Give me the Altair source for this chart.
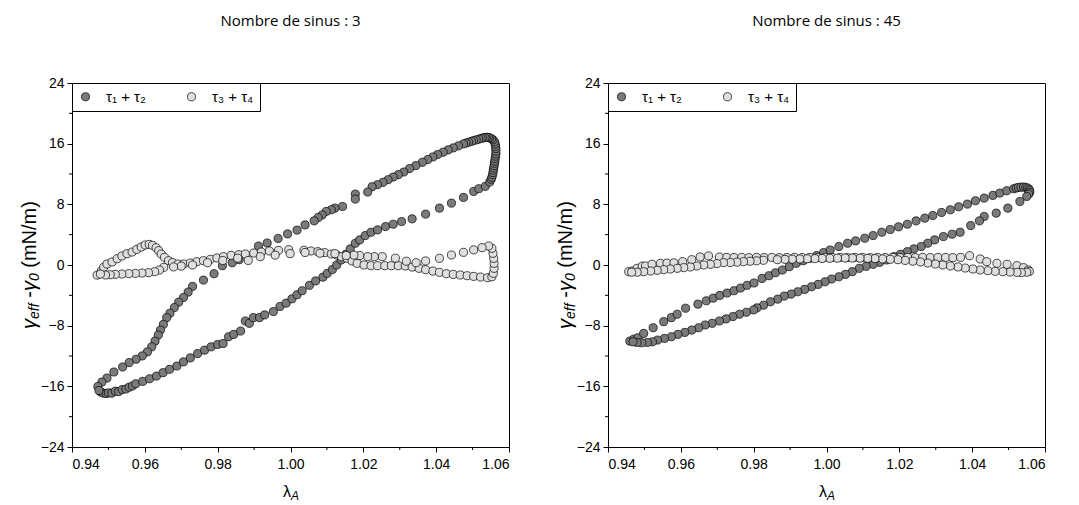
import altair as alt
import pandas as pd

# ---------------- data ----------------
series_names = ["τ₁ + τ₂", "τ₃ + τ₄"]
series_fill = ["#7a7a7a", "#dfdfdf"]
panel_titles = ["Nombre de sinus : 3", "Nombre de sinus : 45"]

x_ticks = [0.94, 0.96, 0.98, 1.00, 1.02, 1.04, 1.06]
x_minor = [0.95, 0.97, 0.99, 1.01, 1.03, 1.05]
y_ticks = [-24, -16, -8, 0, 8, 16, 24]
y_minor = [-20, -12, -4, 4, 12, 20]

# Left panel (3 sines), tau1+tau2
L_dark_lam = [0.9479,0.9486,0.9494,0.9500,0.9509,0.9519,0.9528,0.9538,0.9548,0.9557,0.9566,0.9575,0.9594,0.9613,0.9632,0.9650,0.9668,0.9688,0.9706,0.9725,0.9745,0.9764,0.9782,0.9800,0.9815,0.9830,0.9844,0.9863,0.9876,0.9887,0.9898,0.9915,0.9929,0.9953,0.9971,0.9988,1.0004,1.0018,1.0032,1.0052,1.0069,1.0089,1.0101,1.0115,1.0127,1.0139,1.0152,1.0164,1.0178,1.0190,1.0205,1.0221,1.0239,1.0261,1.0282,1.0305,1.0334,1.0371,1.0409,1.0442,1.0475,1.0503,1.0517,1.0535,1.0547,1.0551,1.0553,1.0555,1.0556,1.0557,1.0558,1.0559,1.0560,1.0561,1.0562,1.0563,1.0564,1.0564,1.0564,1.0563,1.0562,1.0560,1.0556,1.0552,1.0547,1.0543,1.0538,1.0534,1.0528,1.0523,1.0517,1.0510,1.0503,1.0497,1.0489,1.0482,1.0475,1.0461,1.0447,1.0433,1.0419,1.0404,1.0391,1.0377,1.0362,1.0344,1.0327,1.0311,1.0296,1.0282,1.0268,1.0254,1.0239,1.0224,1.0212,1.0178,1.0178,1.0143,1.0122,1.0112,1.0098,1.0087,1.0076,1.0065,1.0040,1.0018,0.9992,0.9966,0.9936,0.9912,0.9859,0.9840,0.9813,0.9790,0.9761,0.9731,0.9719,0.9706,0.9693,0.9681,0.9669,0.9660,0.9651,0.9643,0.9637,0.9628,0.9619,0.9607,0.9593,0.9576,0.9557,0.9539,0.9515,0.9496,0.9482,0.9471,0.9474]
L_dark_gam = [-16.75,-16.90,-16.95,-16.86,-16.90,-16.64,-16.70,-16.42,-16.35,-16.11,-15.95,-15.66,-15.35,-15.00,-14.65,-14.20,-13.76,-13.32,-12.78,-12.25,-11.68,-11.23,-10.79,-10.48,-10.35,-9.46,-9.15,-8.71,-7.38,-7.69,-6.94,-6.94,-6.58,-6.14,-5.47,-5.03,-4.46,-3.92,-3.39,-2.68,-2.10,-1.60,-1.10,-0.60,0.00,0.66,1.41,2.12,2.87,3.31,3.88,4.32,4.63,5.07,5.38,5.73,6.09,6.71,7.50,8.16,8.91,9.70,10.06,10.37,10.94,11.30,11.56,11.90,12.18,12.50,12.79,13.10,13.41,13.70,14.03,14.35,14.65,15.00,15.35,15.65,15.97,16.25,16.50,16.65,16.76,16.82,16.85,16.80,16.76,16.68,16.59,16.50,16.41,16.30,16.19,16.08,15.97,15.71,15.44,15.18,14.87,14.56,14.25,13.90,13.54,13.10,12.71,12.26,11.91,11.60,11.25,10.90,10.59,10.32,9.62,9.35,8.69,7.72,7.50,7.28,7.06,6.60,6.26,5.82,5.29,4.60,4.10,3.50,2.90,2.50,0.70,0.30,-0.09,-1.15,-1.99,-2.82,-3.57,-4.28,-4.90,-5.61,-6.36,-6.94,-7.82,-8.58,-9.24,-10.04,-10.79,-11.46,-11.99,-12.43,-12.87,-13.45,-14.11,-14.91,-15.44,-16.02,-16.55]

# Left panel (3 sines), tau3+tau4
L_light_lam = [0.9469,0.9481,0.9487,0.9496,0.9510,0.9524,0.9537,0.9551,0.9565,0.9578,0.9590,0.9601,0.9612,0.9621,0.9631,0.9638,0.9645,0.9654,0.9665,0.9676,0.9691,0.9707,0.9725,0.9743,0.9761,0.9780,0.9798,0.9816,0.9837,0.9858,0.9876,0.9899,0.9920,0.9942,0.9967,0.9995,1.0037,1.0056,1.0075,1.0094,1.0112,1.0127,1.0140,1.0155,1.0169,1.0183,1.0202,1.0221,1.0239,1.0259,1.0277,1.0296,1.0315,1.0334,1.0353,1.0371,1.0391,1.0409,1.0428,1.0447,1.0466,1.0485,1.0503,1.0522,1.0541,1.0553,1.0557,1.0559,1.0559,1.0558,1.0556,1.0553,1.0544,1.0526,1.0503,1.0475,1.0442,1.0409,1.0371,1.0345,1.0318,1.0288,1.0252,1.0230,1.0212,1.0190,1.0174,1.0153,1.0122,1.0081,1.0040,0.9999,0.9958,0.9917,0.9884,0.9855,0.9814,0.9772,0.9731,0.9700,0.9679,0.9652,0.9640,0.9627,0.9610,0.9592,0.9574,0.9556,0.9537,0.9519,0.9505,0.9492,0.9478]
L_light_gam = [-1.33,-0.75,-0.31,0.13,0.40,0.83,1.19,1.49,1.71,2.06,2.37,2.64,2.72,2.59,2.28,1.89,1.45,1.01,0.57,0.31,0.13,0.13,0.26,0.44,0.57,0.75,0.92,1.10,1.27,1.36,1.45,1.58,1.71,1.85,1.93,2.02,1.94,1.85,1.76,1.63,1.45,1.32,1.10,0.88,0.53,0.22,0.00,-0.09,-0.09,-0.09,-0.09,-0.09,-0.13,-0.27,-0.44,-0.62,-0.80,-0.97,-1.15,-1.24,-1.32,-1.41,-1.50,-1.59,-1.68,-1.55,-1.10,-0.44,0.22,0.88,1.54,2.20,2.51,2.29,2.00,1.67,1.32,0.88,0.53,0.30,0.50,0.90,1.10,1.10,1.10,1.25,1.30,1.25,1.50,1.55,1.65,1.50,1.30,1.10,0.60,0.90,0.60,0.30,0.00,-0.15,-0.25,-0.31,-0.66,-0.88,-1.01,-1.06,-1.10,-1.14,-1.19,-1.23,-1.28,-1.32,-1.19]

# Right panel (45 sines), tau1+tau2
R_dark_lam = [0.9460,0.9471,0.9482,0.9498,0.9524,0.9553,0.9574,0.9590,0.9613,0.9647,0.9670,0.9689,0.9707,0.9727,0.9746,0.9764,0.9782,0.9801,0.9823,0.9842,0.9860,0.9879,0.9898,0.9917,0.9936,0.9954,0.9973,0.9992,1.0010,1.0034,1.0058,1.0080,1.0105,1.0128,1.0152,1.0175,1.0198,1.0222,1.0246,1.0270,1.0292,1.0316,1.0340,1.0363,1.0387,1.0409,1.0433,1.0457,1.0476,1.0495,1.0514,1.0521,1.0527,1.0534,1.0541,1.0547,1.0552,1.0556,1.0558,1.0558,1.0555,1.0550,1.0531,1.0498,1.0466,1.0433,1.0420,1.0396,1.0367,1.0345,1.0321,1.0297,1.0278,1.0260,1.0240,1.0222,1.0203,1.0185,1.0165,1.0146,1.0128,1.0109,1.0090,1.0071,1.0052,1.0034,1.0014,0.9996,0.9977,0.9959,0.9940,0.9921,0.9903,0.9884,0.9866,0.9846,0.9827,0.9809,0.9800,0.9780,0.9761,0.9743,0.9724,0.9706,0.9686,0.9667,0.9649,0.9630,0.9611,0.9592,0.9574,0.9555,0.9536,0.9522,0.9508,0.9493,0.9480,0.9469]
R_dark_gam = [-10.04,-9.77,-9.59,-9.02,-8.27,-7.47,-6.94,-6.49,-5.70,-5.16,-4.72,-4.37,-4.01,-3.70,-3.39,-3.04,-2.68,-2.37,-1.77,-1.41,-1.02,-0.66,-0.22,0.22,0.57,0.88,1.23,1.63,1.98,2.43,2.87,3.18,3.53,3.88,4.32,4.68,5.03,5.38,5.82,6.18,6.53,6.93,7.28,7.68,8.03,8.47,8.82,9.18,9.48,9.79,10.06,10.15,10.23,10.27,10.28,10.22,10.15,10.00,9.79,9.55,9.35,9.04,8.38,7.50,6.84,6.40,5.82,5.20,4.32,4.06,3.75,3.31,2.87,2.43,2.12,1.76,1.41,1.10,0.66,0.35,0.09,-0.18,-0.44,-0.88,-1.24,-1.55,-1.85,-2.21,-2.56,-2.87,-3.22,-3.53,-3.84,-4.10,-4.50,-4.85,-5.30,-5.65,-5.92,-6.23,-6.49,-6.80,-7.11,-7.38,-7.69,-7.91,-8.27,-8.58,-8.89,-9.15,-9.46,-9.68,-9.90,-10.13,-10.22,-10.26,-10.22,-10.13]

# Right panel (45 sines), tau3+tau4
R_light_lam = [0.9457,0.9467,0.9480,0.9494,0.9503,0.9521,0.9544,0.9562,0.9581,0.9605,0.9630,0.9653,0.9676,0.9706,0.9726,0.9746,0.9767,0.9787,0.9808,0.9829,0.9850,0.9870,0.9891,0.9912,0.9933,0.9954,0.9975,0.9995,1.0016,1.0037,1.0057,1.0078,1.0099,1.0120,1.0140,1.0161,1.0182,1.0202,1.0223,1.0244,1.0264,1.0285,1.0306,1.0327,1.0347,1.0368,1.0393,1.0422,1.0440,1.0468,1.0496,1.0523,1.0541,1.0554,1.0557,1.0550,1.0535,1.0523,1.0504,1.0484,1.0463,1.0443,1.0422,1.0402,1.0381,1.0361,1.0340,1.0319,1.0299,1.0278,1.0258,1.0237,1.0216,1.0196,1.0175,1.0154,1.0133,1.0113,1.0092,1.0071,1.0051,1.0030,1.0009,0.9988,0.9968,0.9947,0.9927,0.9906,0.9886,0.9865,0.9827,0.9808,0.9790,0.9772,0.9754,0.9736,0.9717,0.9699,0.9681,0.9663,0.9644,0.9626,0.9608,0.9590,0.9571,0.9553,0.9535,0.9517,0.9498,0.9480,0.9465]
R_light_gam = [-0.88,-0.79,-0.44,-0.15,-0.13,0.10,0.22,0.25,0.28,0.44,0.70,1.06,1.20,1.05,1.00,0.98,1.00,0.97,1.00,0.98,1.00,0.97,0.99,1.00,0.98,1.00,0.97,1.00,0.99,1.00,0.98,1.00,0.99,0.97,1.00,0.98,1.00,0.99,1.00,0.97,1.00,0.98,0.99,1.00,0.97,1.00,1.23,0.79,0.44,0.22,0.09,-0.09,-0.35,-0.66,-0.85,-0.95,-1.00,-0.97,-0.93,-0.88,-0.84,-0.75,-0.66,-0.53,-0.40,-0.26,-0.13,0.00,0.13,0.26,0.40,0.50,0.60,0.70,0.75,0.80,0.85,0.88,0.90,0.92,0.92,0.90,0.88,0.86,0.84,0.82,0.80,0.77,0.74,0.70,0.62,0.55,0.50,0.44,0.38,0.33,0.31,0.18,0.09,0.00,-0.13,-0.26,-0.35,-0.44,-0.53,-0.61,-0.70,-0.79,-0.88,-0.95,-0.95]

# ---------------- layout ----------------
W, H = 437, 364
FONT = "Liberation Sans"
xscale = alt.Scale(domain=[0.94, 1.06], nice=False, zero=False)
yscale = alt.Scale(domain=[-24, 24], nice=False, zero=False)
cscale = alt.Scale(domain=series_names, range=series_fill)


def x_axis():
    return alt.Axis(values=x_ticks, format=".2f", title=None, grid=False, labelPadding=5)


def y_axis():
    return alt.Axis(values=y_ticks, format="d", title=None, grid=False, labelPadding=3)


def text_piece(txt, x, y, size, italic=False, angle=0, align="left"):
    kw = dict(font=FONT, fontSize=size, color="black", align=align,
              baseline="middle", angle=angle)
    if italic:
        kw["fontStyle"] = "italic"
    return alt.Chart(pd.DataFrame({"t": [txt]})).mark_text(**kw).encode(
        text="t:N", x=alt.value(x), y=alt.value(y))


def panel(lam_a, gam_a, lam_b, gam_b, title):
    df = pd.DataFrame({
        "lam": lam_a + lam_b,
        "gam": gam_a + gam_b,
        "series": [series_names[0]] * len(lam_a) + [series_names[1]] * len(lam_b),
        "ord": list(range(len(lam_a) + len(lam_b))),
    })
    pts = alt.Chart(df).mark_circle(size=66, stroke="black", strokeWidth=0.7, opacity=1).encode(
        x=alt.X("lam:Q", scale=xscale, axis=x_axis()),
        y=alt.Y("gam:Q", scale=yscale, axis=y_axis()),
        color=alt.Color("series:N", scale=cscale,
                        legend=alt.Legend(orient="none", legendX=0, legendY=0,
                                          direction="horizontal", title=None,
                                          strokeColor="black", fillColor="white",
                                          padding=6, labelFontSize=15, labelFont=FONT,
                                          labelColor="black", symbolSize=66,
                                          symbolStrokeWidth=0.7, symbolStrokeColor="black",
                                          columnPadding=38, labelOffset=13,
                                          symbolType="circle", cornerRadius=0)),
        order=alt.Order("ord:Q"),
    )
    mx = alt.Chart(pd.DataFrame({"lam": x_minor})).mark_rule(color="black", strokeWidth=1).encode(
        x=alt.X("lam:Q", scale=xscale, axis=x_axis()), y=alt.value(H), y2=alt.value(H + 3))
    my = alt.Chart(pd.DataFrame({"gam": y_minor})).mark_rule(color="black", strokeWidth=1).encode(
        y=alt.Y("gam:Q", scale=yscale, axis=y_axis()), x=alt.value(0), x2=alt.value(-3))

    # y title: gamma_eff -gamma_0 (mN/m), rotated, built from pieces
    y0 = H / 2 + 64.0
    tx = -42
    ytitle = [
        text_piece("γ", tx, y0, 20, True, 270),
        text_piece("eff", tx + 5, y0 - 10.0, 14, True, 270),
        text_piece("-", tx, y0 - 31.2, 20, False, 270),
        text_piece("γ", tx, y0 - 37.9, 20, True, 270),
        text_piece("0", tx + 5, y0 - 47.9, 14, True, 270),
        text_piece("(mN/m)", tx, y0 - 61.3, 20, False, 270),
    ]
    xc = W / 2 - 7.6
    xtitle = [
        text_piece("λ", xc, H + 45, 16, False),
        text_piece("A", xc + 8.0, H + 49, 12, True),
    ]
    return alt.layer(pts, mx, my, *ytitle, *xtitle).properties(
        width=W, height=H,
        title=alt.TitleParams(title, font="Open Sans", fontSize=15, fontWeight="normal",
                              color="black", anchor="middle", offset=47),
    )


left = panel(L_dark_lam, L_dark_gam, L_light_lam, L_light_gam, panel_titles[0])
right = panel(R_dark_lam, R_dark_gam, R_light_lam, R_light_gam, panel_titles[1])

chart = alt.hconcat(left, right, spacing=45).resolve_legend(color="independent").configure(
    padding={"left": 11, "top": 5, "right": 5, "bottom": 5},
    background="white",
).configure_view(stroke="black", strokeWidth=1).configure_axis(
    domainColor="black", tickColor="black", labelColor="black", labelFont=FONT,
    labelFontSize=14, tickSize=5, domainWidth=1, tickWidth=1, grid=False,
)

chart.save("out.html", embed_options={"renderer": "svg", "actions": False})
